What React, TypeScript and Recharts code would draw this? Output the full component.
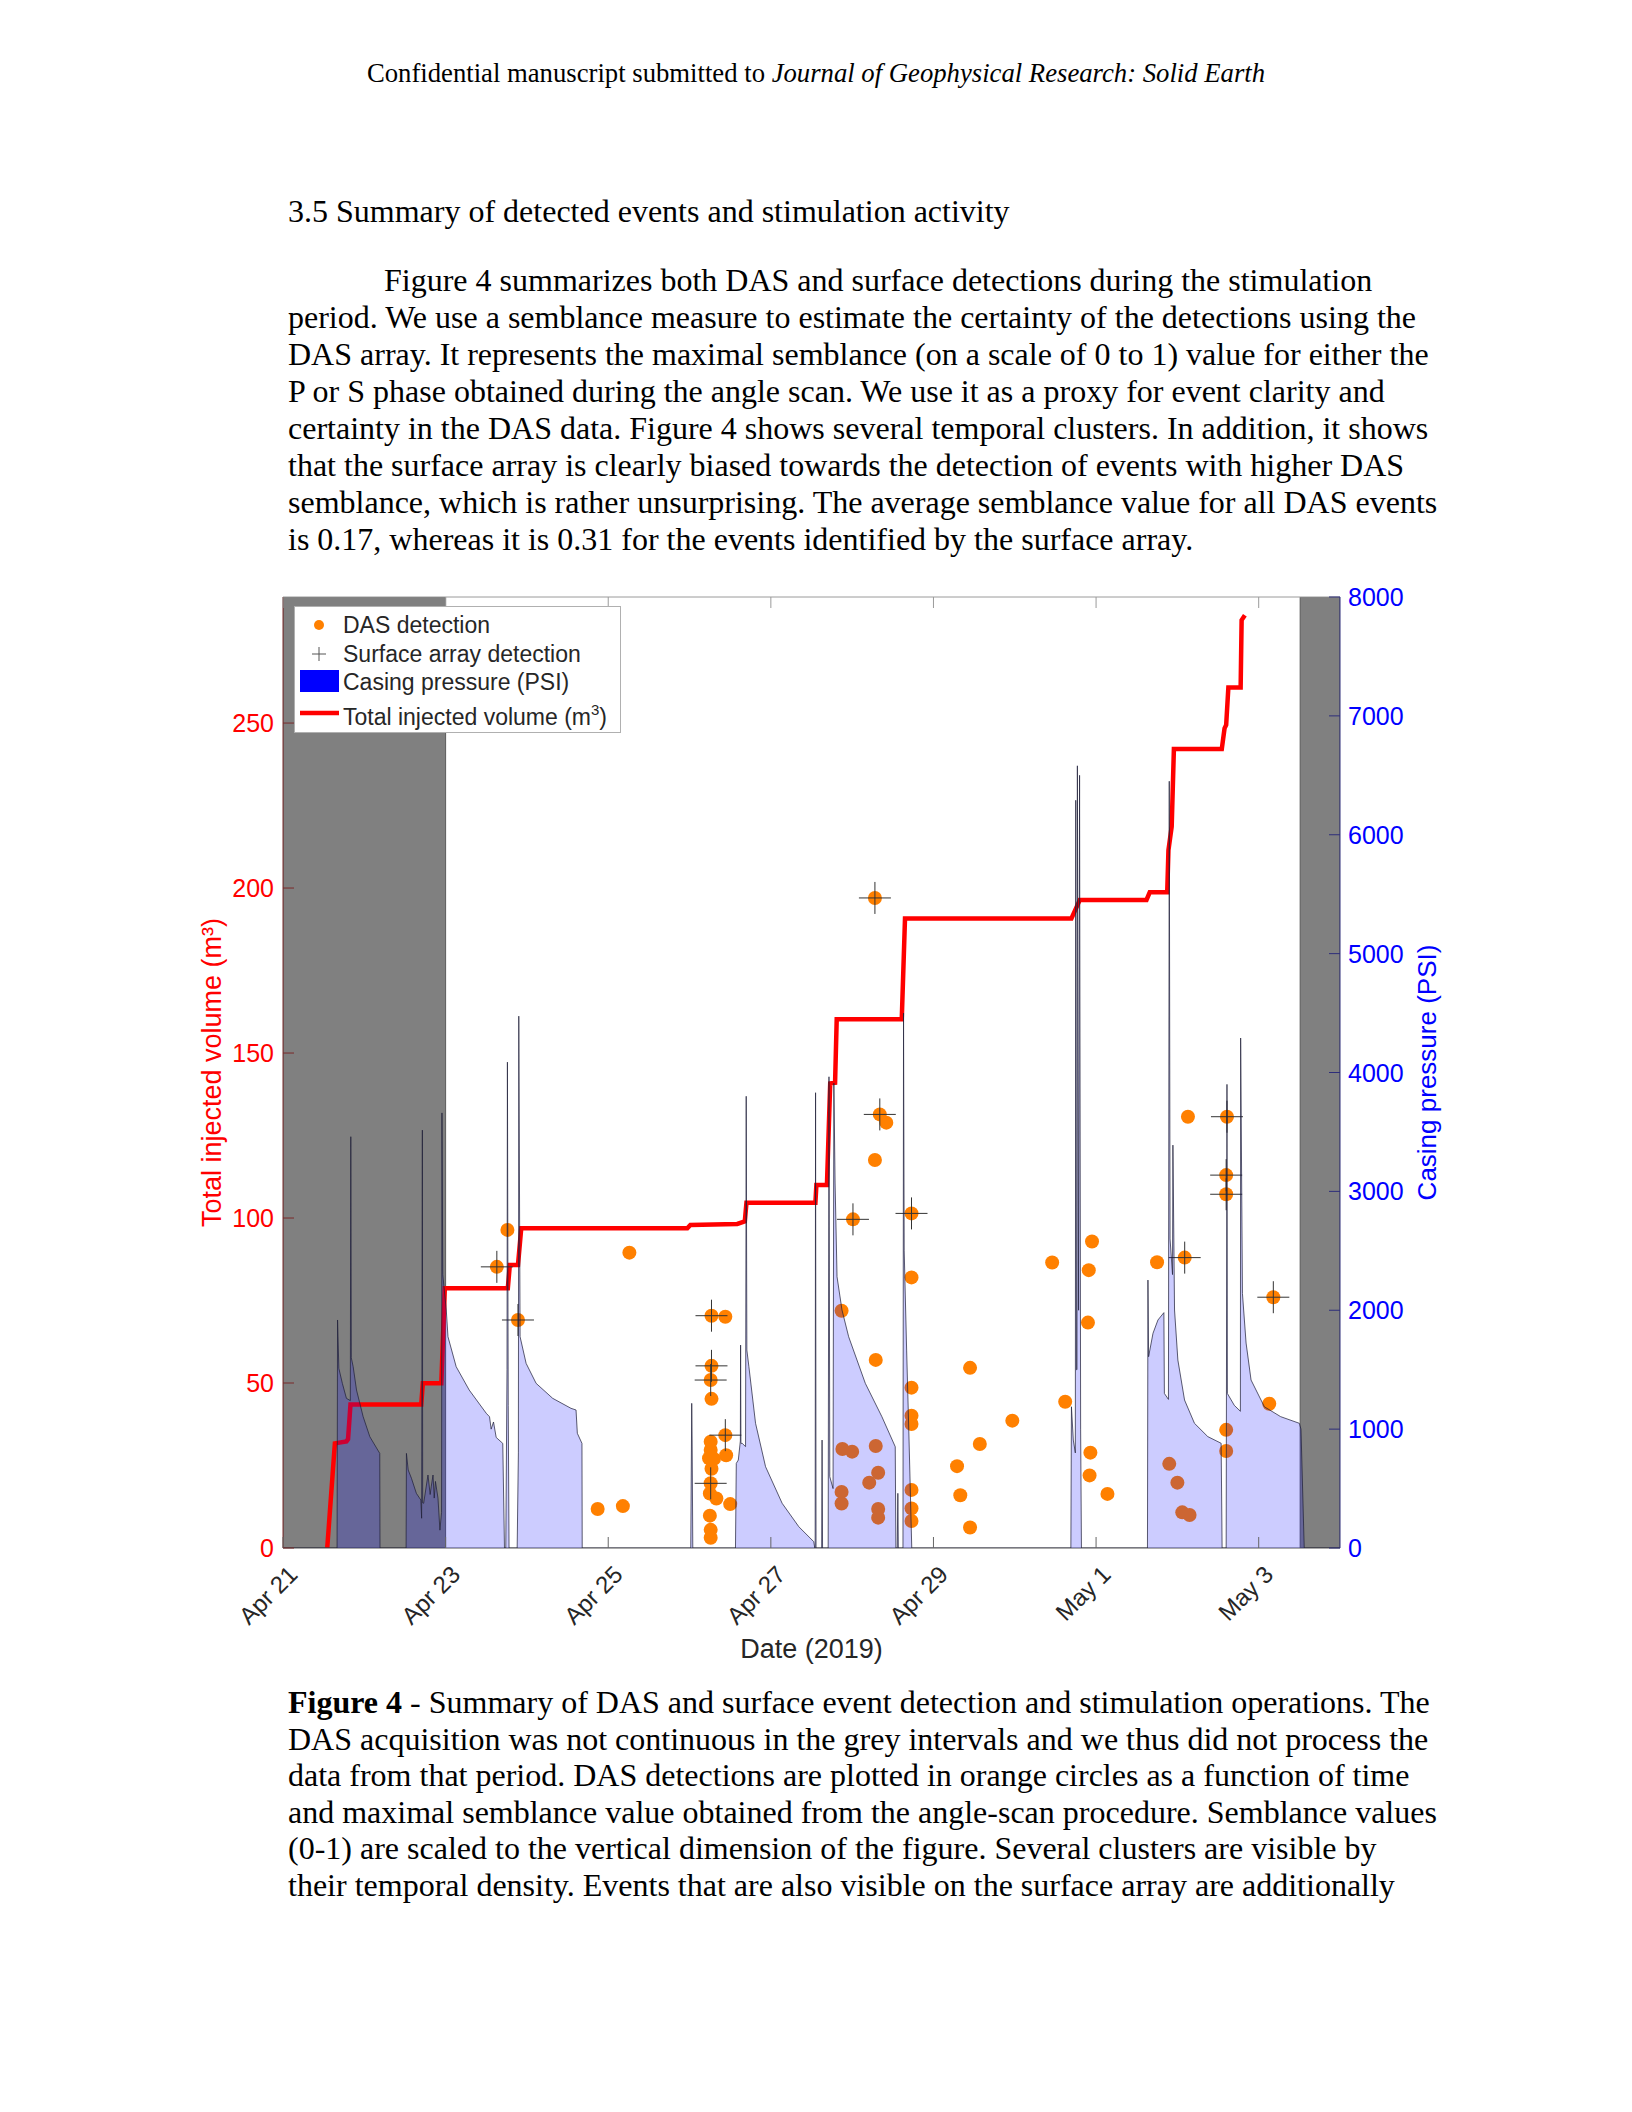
import { ComposedChart, Area, Line, Scatter, XAxis, YAxis, ReferenceArea, Legend } from "recharts";

// x values are days since Apr 21 2019, 00:00
const DAY_TICKS = [0, 2, 4, 6, 8, 10, 12];
const DAY_LABELS = ["Apr 21", "Apr 23", "Apr 25", "Apr 27", "Apr 29", "May 1", "May 3"];
const VOLUME_TICKS = [0, 50, 100, 150, 200, 250];
const PSI_TICKS = [0, 1000, 2000, 3000, 4000, 5000, 6000, 7000, 8000];
const VOLUME_MAX = 288.2;
const PSI_MAX = 8000;

// periods without DAS acquisition [start, end]
const GAP_BANDS = [
  [0, 2],
  [12.51, 13],
];

// casing pressure [day, psi]
const casingPressure = [
  [0, 0], [0.665, 0], [0.671, 1918], [0.687, 1511], [0.73, 1385], [0.78, 1259], [0.828, 1240], [0.834, 3460],
  [0.84, 1600], [0.863, 1525], [0.904, 1329], [0.986, 1104], [1.068, 936], [1.19, 796], [1.193, 0],
  [1.514, 0], [1.518, 796], [1.54, 656], [1.58, 586], [1.64, 460], [1.695, 404], [1.705, 250], [1.714, 3515],
  [1.718, 380], [1.73, 376], [1.783, 614], [1.81, 450], [1.824, 520], [1.845, 614], [1.86, 420], [1.875, 560],
  [1.906, 420], [1.93, 150], [1.95, 300], [1.955, 3660], [1.965, 2300], [2.008, 2002], [2.029, 1777],
  [2.13, 1525], [2.29, 1329], [2.5, 1133], [2.54, 1104], [2.56, 1000], [2.589, 1060], [2.622, 930],
  [2.703, 880], [2.724, 0],
  [2.74, 0], [2.755, 1500], [2.76, 4087], [2.77, 1200], [2.78, 0], [2.88, 0], [2.895, 800], [2.9, 4474],
  [2.916, 1777], [2.99, 1553], [3.113, 1385], [3.317, 1259], [3.542, 1175], [3.604, 1161], [3.62, 965],
  [3.677, 880], [3.68, 0],
  [5.015, 0], [5.027, 1217], [5.032, 900], [5.04, 0],
  [5.565, 0], [5.575, 712], [5.6, 740], [5.625, 900], [5.628, 1707], [5.632, 880], [5.648, 880], [5.689, 853],
  [5.697, 3800], [5.705, 1665], [5.73, 1525], [5.812, 1049], [5.935, 684], [6.139, 376], [6.344, 179],
  [6.528, 53], [6.54, 0],
  [6.545, 0], [6.55, 3830], [6.556, 0], [6.625, 0], [6.63, 908], [6.636, 0], [6.705, 0], [6.715, 3964],
  [6.725, 600], [6.765, 500], [6.775, 3910], [6.79, 3070], [6.814, 2282], [6.875, 2002], [6.957, 1777],
  [7.162, 1385], [7.366, 1104], [7.53, 852], [7.538, 0],
  [7.555, 0], [7.562, 460], [7.568, 0], [7.625, 0], [7.632, 4500], [7.64, 2500], [7.67, 1665], [7.7, 900],
  [7.733, 0],
  [9.69, 0], [9.697, 1188], [9.72, 908], [9.745, 800], [9.75, 6290], [9.758, 1500], [9.765, 1500],
  [9.77, 6580], [9.785, 2000], [9.797, 6500], [9.81, 1000], [9.82, 0],
  [10.632, 0], [10.638, 2254], [10.646, 1609], [10.7, 1806], [10.761, 1918], [10.834, 1980], [10.84, 1300],
  [10.89, 1250], [10.9, 6450], [10.91, 2600], [10.94, 2300], [10.945, 3389], [10.965, 2002], [11.006, 1581],
  [11.088, 1245], [11.21, 1049], [11.374, 937], [11.538, 881], [11.55, 0],
  [11.6, 0], [11.61, 3900], [11.615, 1300], [11.7, 1200], [11.775, 1150], [11.778, 4290], [11.8, 2142],
  [11.845, 1724], [11.906, 1413], [12.07, 1188], [12.27, 1105], [12.5, 1049], [12.52, 1000], [12.56, 0],
  [13, 0],
];

// total injected volume [day, m3]
const injectedVolume = [
  [0.544, 0], [0.638, 31.7], [0.78, 32.3], [0.8, 33], [0.83, 43.5], [1.7, 43.5], [1.72, 49.9], [1.947, 49.9],
  [1.99, 78.7], [2.765, 78.7], [2.79, 85.8], [2.89, 85.8], [2.93, 96.9], [4.973, 96.9], [5.01, 97.9],
  [5.587, 98.2], [5.68, 99], [5.7, 104.6], [6.548, 104.6], [6.56, 110], [6.69, 110], [6.73, 140.8],
  [6.79, 141], [6.81, 160.2], [7.61, 160.2], [7.65, 190.8], [9.697, 190.8], [9.8, 196.4], [10.62, 196.4],
  [10.66, 198.7], [10.875, 198.7], [10.89, 211.5], [10.93, 218.6], [10.957, 242.1], [11.546, 242.1],
  [11.58, 248.4], [11.6, 249.4], [11.627, 260.8], [11.778, 260.8], [11.79, 281.2], [11.83, 282.7],
];

// DAS detections [day, scaled semblance]
const dasDetections = [
  [2.63, 85.2], [2.76, 96.4], [2.89, 69.1], [3.87, 11.8], [4.18, 12.7], [4.26, 89.5],
  [5.27, 70.4], [5.44, 70.1], [5.27, 55.2], [5.26, 50.9], [5.27, 45.2], [5.44, 34.2], [5.45, 28.1],
  [5.26, 32.2], [5.26, 29.7], [5.24, 27.2], [5.3, 27], [5.27, 24], [5.26, 19.6], [5.25, 16.5], [5.33, 15],
  [5.5, 13.3], [5.25, 9.8], [5.26, 5.5], [5.26, 3.1],
  [6.87, 71.9], [6.88, 30], [7.0, 29.2], [6.87, 17], [6.87, 13.5], [7.01, 99.6], [7.28, 197], [7.28, 117.6],
  [7.29, 57], [7.34, 131.4], [7.42, 128.9], [7.29, 30.9], [7.32, 22.8], [7.21, 19.8], [7.32, 11.8], [7.32, 9.2],
  [7.73, 101.4], [7.73, 82], [7.73, 48.6], [7.73, 40.1], [7.73, 37.6], [7.73, 17.6], [7.73, 12], [7.73, 8.2],
  [8.29, 24.8], [8.33, 16], [8.45, 6.2], [8.45, 54.6], [8.57, 31.5], [8.97, 38.6],
  [9.46, 86.5], [9.62, 44.3], [9.95, 92.9], [9.91, 84.2], [9.9, 68.3], [9.93, 28.9], [9.92, 22], [10.14, 16.4],
  [10.75, 86.6], [10.9, 25.5], [11.0, 19.8], [11.06, 10.8], [11.15, 10], [11.09, 88], [11.13, 130.7],
  [11.61, 130.7], [11.6, 113], [11.6, 107.2], [11.6, 35.8], [11.6, 29.4],
  [12.18, 76], [12.13, 43.7],
];

// events also seen by the surface array [day, scaled semblance]
const surfaceDetections = [
  [2.63, 85.2], [2.89, 69.1], [5.27, 70.4], [5.27, 55.2], [5.26, 50.9], [5.44, 34.2], [5.26, 19.6],
  [7.01, 99.6], [7.28, 197], [7.34, 131.4], [7.73, 101.4], [11.09, 88], [11.61, 130.7], [11.6, 113],
  [11.6, 107.2], [12.18, 76],
];

const PARAGRAPH = [
  "Figure 4 summarizes both DAS and surface detections during the stimulation",
  "period. We use a semblance measure to estimate the certainty of the detections using the",
  "DAS array. It represents the maximal semblance (on a scale of 0 to 1) value for either the",
  "P or S phase obtained during the angle scan. We use it as a proxy for event clarity and",
  "certainty in the DAS data. Figure 4 shows several temporal clusters. In addition, it shows",
  "that the surface array is clearly biased towards the detection of events with higher DAS",
  "semblance, which is rather unsurprising. The average semblance value for all DAS events",
  "is 0.17, whereas it is 0.31 for the events identified by the surface array.",
];

const CAPTION = [
  " - Summary of DAS and surface event detection and stimulation operations. The",
  "DAS acquisition was not continuous in the grey intervals and we thus did not process the",
  "data from that period. DAS detections are plotted in orange circles as a function of time",
  "and maximal semblance value obtained from the angle-scan procedure. Semblance values",
  "(0-1) are scaled to the vertical dimension of the figure. Several clusters are visible by",
  "their temporal density. Events that are also visible on the surface array are additionally",
];

const SANS = "'Liberation Sans', Arial, sans-serif";
const SERIF = "'Liberation Serif', 'Times New Roman', serif";

const pressureData = casingPressure.map(([day, psi]) => ({ day, psi }));
const volumeData = injectedVolume.map(([day, v]) => ({ day, v }));
const dasData = dasDetections.map(([day, v]) => ({ day, v }));
const surfaceData = surfaceDetections.map(([day, v]) => ({ day, v }));

const DayTick = ({ x, y, payload }: any) => {
  const label = DAY_LABELS[DAY_TICKS.indexOf(payload.value)];
  const tx = x + 16;
  const ty = y + 28;
  return (
    <g>
      <line x1={x} y1={y} x2={x} y2={y - 11} stroke="#666" />
      <text
        x={tx}
        y={ty}
        transform={`rotate(-45 ${tx} ${ty})`}
        textAnchor="end"
        fontSize={24}
        fontFamily={SANS}
        fill="#262626"
      >
        {label}
      </text>
    </g>
  );
};

const TopTick = ({ x, y }: any) => <line x1={x} y1={y} x2={x} y2={y + 11} stroke="#9a9a9a" />;

const VolumeTick = ({ x, y, payload }: any) => (
  <g>
    <line x1={x} y1={y} x2={x + 11} y2={y} stroke="#7a2a2a" />
    <text x={x - 9} y={y} textAnchor="end" dominantBaseline="central" fontSize={25} fontFamily={SANS} fill="#ff0000">
      {payload.value}
    </text>
  </g>
);

const PsiTick = ({ x, y, payload }: any) => (
  <g>
    <line x1={x} y1={y} x2={x - 11} y2={y} stroke="#2e2e7a" />
    <text x={x + 8} y={y} textAnchor="start" dominantBaseline="central" fontSize={25} fontFamily={SANS} fill="#0000ff">
      {payload.value}
    </text>
  </g>
);

const DasDot = ({ cx, cy }: any) => <circle cx={cx} cy={cy} r={7} fill="#ff8000" />;

const SurfaceCross = ({ cx, cy }: any) => (
  <path d={`M${cx - 16},${cy}H${cx + 16}M${cx},${cy - 16}V${cy + 16}`} stroke="#333" strokeWidth={1} fill="none" />
);

const LegendBox = () => {
  const t = { fontSize: 23, fontFamily: SANS, fill: "#262626" };
  return (
    <svg width={327} height={127} style={{ display: "block", background: "#fff", border: "1px solid #b0b0b0", boxSizing: "border-box" }}>
      <circle cx={24} cy={18} r={5} fill="#ff8000" />
      <text x={48} y={26} {...t}>DAS detection</text>
      <path d="M17,47H31M24,40V54" stroke="#555" fill="none" />
      <text x={48} y={55} {...t}>Surface array detection</text>
      <rect x={5} y={63} width={39} height={22} fill="#0000ff" />
      <text x={48} y={83} {...t}>Casing pressure (PSI)</text>
      <line x1={5} y1={106} x2={44} y2={106} stroke="#ff0000" strokeWidth={4.5} />
      <text x={48} y={118} {...t}>
        Total injected volume (m<tspan dy={-10} fontSize={15}>3</tspan>
        <tspan dy={10}>)</tspan>
      </text>
    </svg>
  );
};

const SummaryChart = () => (
  <ComposedChart width={1632} height={1140} data={pressureData} margin={{ top: 56, right: 172, bottom: 15, left: 180 }}>
    <XAxis
      xAxisId="b"
      dataKey="day"
      type="number"
      domain={[0, 13]}
      ticks={DAY_TICKS}
      interval={0}
      allowDataOverflow
      height={117}
      tickSize={0}
      tickMargin={0}
      tickLine={false}
      tick={(p: any) => <DayTick {...p} />}
      axisLine={{ stroke: "#555" }}
      label={{ value: "Date (2019)", position: "insideBottom", offset: 7, fill: "#262626", fontSize: 27, fontFamily: SANS }}
    />
    <XAxis
      xAxisId="t"
      orientation="top"
      dataKey="day"
      type="number"
      domain={[0, 13]}
      ticks={DAY_TICKS}
      interval={0}
      allowDataOverflow
      height={1}
      tickSize={0}
      tickMargin={0}
      tickLine={false}
      tick={(p: any) => <TopTick {...p} />}
      axisLine={{ stroke: "#9a9a9a" }}
    />
    <YAxis
      yAxisId="vol"
      orientation="left"
      domain={[0, VOLUME_MAX]}
      ticks={VOLUME_TICKS}
      interval={0}
      allowDataOverflow
      width={103}
      tickSize={0}
      tickMargin={0}
      tickLine={false}
      tick={(p: any) => <VolumeTick {...p} />}
      axisLine={{ stroke: "#7a2a2a" }}
      label={{
        value: "Total injected volume (m³)",
        angle: -90,
        position: "insideLeft",
        offset: 31,
        style: { textAnchor: "middle" },
        fill: "#ff0000",
        fontSize: 27,
        fontFamily: SANS,
      }}
    />
    <YAxis
      yAxisId="psi"
      orientation="right"
      domain={[0, PSI_MAX]}
      ticks={PSI_TICKS}
      interval={0}
      allowDataOverflow
      width={120}
      tickSize={0}
      tickMargin={0}
      tickLine={false}
      tick={(p: any) => <PsiTick {...p} />}
      axisLine={{ stroke: "#2e2e7a" }}
      label={{
        value: "Casing pressure (PSI)",
        angle: -90,
        position: "insideRight",
        offset: 33,
        style: { textAnchor: "middle" },
        fill: "#0000ff",
        fontSize: 26,
        fontFamily: SANS,
      }}
    />
    {GAP_BANDS.map(([a, b]) => (
      <ReferenceArea
        key={a}
        xAxisId="b"
        yAxisId="vol"
        x1={a}
        x2={b}
        fill="#808080"
        fillOpacity={1}
        stroke="#5a5a5a"
        strokeWidth={1}
        ifOverflow="hidden"
        zIndex={-10}
      />
    ))}
    <Line
      xAxisId="b"
      yAxisId="vol"
      data={volumeData}
      dataKey="v"
      type="linear"
      stroke="#ff0000"
      strokeWidth={4.5}
      dot={false}
      activeDot={false}
      isAnimationActive={false}
      zIndex={400}
    />
    <Scatter
      xAxisId="b"
      yAxisId="vol"
      data={dasData}
      dataKey="v"
      shape={(p: any) => <DasDot {...p} />}
      isAnimationActive={false}
      zIndex={600}
    />
    <Scatter
      xAxisId="b"
      yAxisId="vol"
      data={surfaceData}
      dataKey="v"
      shape={(p: any) => <SurfaceCross {...p} />}
      isAnimationActive={false}
      zIndex={650}
    />
    <Area
      xAxisId="b"
      yAxisId="psi"
      dataKey="psi"
      type="linear"
      fill="#0000ff"
      fillOpacity={0.2}
      stroke="#1e1e38"
      strokeOpacity={0.8}
      strokeWidth={0.9}
      dot={false}
      activeDot={false}
      isAnimationActive={false}
      zIndex={700}
    />
    <Legend
      layout="vertical"
      align="center"
      verticalAlign="middle"
      wrapperStyle={{ left: 294, top: 66, width: 327, height: 127 }}
      content={() => <LegendBox />}
    />
  </ComposedChart>
);

export default function App() {
  return (
    <div style={{ position: "relative", width: 1632, height: 2112, background: "#fff" }}>
      <style>{"body{margin:0}"}</style>
      <svg width={1632} height={2112} style={{ position: "absolute", left: 0, top: 0 }}>
        <text x={816} y={82} textAnchor="middle" fontSize={26.7} fontFamily={SERIF} fill="#000">
          Confidential manuscript submitted to <tspan fontStyle="italic">Journal of Geophysical Research: Solid Earth</tspan>
        </text>
        <text x={288} y={222} fontSize={32} fontFamily={SERIF} fill="#000">
          3.5 Summary of detected events and stimulation activity
        </text>
        {PARAGRAPH.map((line, i) => (
          <text key={i} x={i === 0 ? 384 : 288} y={291 + i * 36.93} fontSize={32} fontFamily={SERIF} fill="#000">
            {line}
          </text>
        ))}
        {CAPTION.map((line, i) => (
          <text key={i} x={288} y={1713 + i * 36.5} fontSize={32} fontFamily={SERIF} fill="#000">
            {i === 0 && <tspan fontWeight="bold">Figure 4</tspan>}
            {line}
          </text>
        ))}
      </svg>
      <div style={{ position: "absolute", left: 0, top: 540 }}>
        <SummaryChart />
      </div>
    </div>
  );
}
